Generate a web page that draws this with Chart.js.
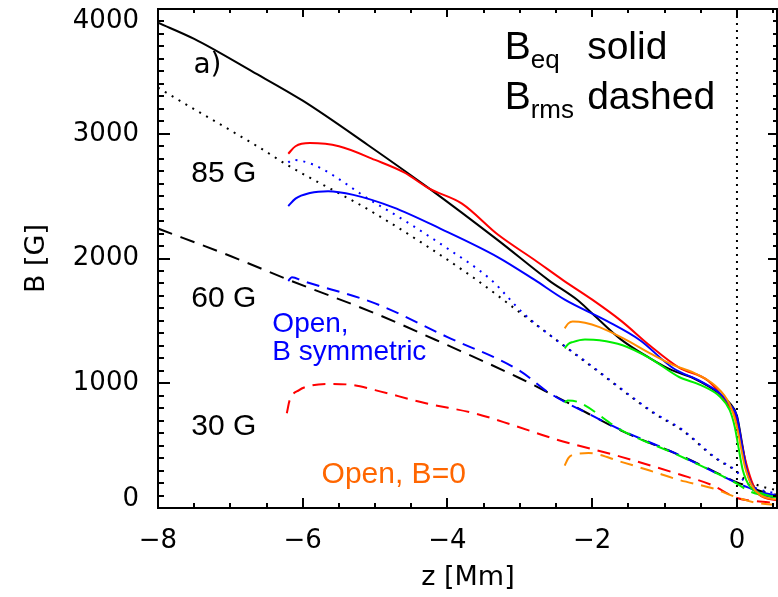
<!DOCTYPE html>
<html>
<head>
<meta charset="utf-8">
<script src="https://cdn.jsdelivr.net/npm/chart.js@4/dist/chart.umd.min.js"></script>
<style>
  html, body { margin: 0; padding: 0; background: #fff; }
  #chart { display: block; }
</style>
</head>
<body>
<canvas id="chart" width="778" height="597"></canvas>
<script>
// tick values / labels
const xTicks = [-8, -6, -4, -2, 0];
const xTickLabels = ['\u22128', '\u22126', '\u22124', '\u22122', '0'];
const yTicks = [0, 1000, 2000, 3000, 4000];
const xMinor = [-8, -7.5, -7, -6.5, -6, -5.5, -5, -4.5, -4, -3.5, -3, -2.5, -2, -1.5, -1, -0.5, 0, 0.5];

// reference run (black): B_eq solid, B_rms dashed, dotted
const eqRefZ = [-8, -7.5, -6.7, -6.0, -5.1, -4.25, -3.3, -2.6, -2.2, -2.0, -1.6, -1.2, -0.9, -0.6, -0.25, -0.1, 0.0, 0.07, 0.14, 0.2, 0.32, 0.45, 0.567];
const eqRefB = [3890, 3760, 3500, 3265, 2910, 2560, 2145, 1825, 1665, 1560, 1350, 1200, 1105, 1040, 920, 840, 740, 520, 300, 200, 120, 95, 88];
const rmsRefZ = [-8, -7.0, -6.2, -5.0, -4.0, -3.0, -2.3, -1.6, -0.8, -0.5, -0.2, 0.0, 0.15, 0.3, 0.567];
const rmsRefB = [2240, 2020, 1830, 1560, 1305, 1040, 832, 620, 425, 345, 260, 205, 175, 140, 104];
const dotRefZ = [-8, -7.7, -6.6, -6.2, -5.0, -3.65, -2.95, -2.0, -1.15, -0.75, -0.3, 0.0, 0.1, 0.3, 0.567];
const dotRefB = [3370, 3265, 2890, 2745, 2360, 1850, 1545, 1130, 760, 620, 400, 290, 235, 180, 140];

// 85 G (red)
const eq85Z = [-6.2, -6.1, -5.9, -5.5, -5.0, -4.6, -4.25, -3.8, -3.3, -2.8, -2.4, -2.0, -1.6, -1.2, -0.8, -0.4, -0.15, 0.0, 0.1, 0.2, 0.3, 0.567];
const eq85B = [2840, 2900, 2925, 2900, 2790, 2690, 2560, 2440, 2190, 1990, 1825, 1670, 1500, 1300, 1125, 1020, 850, 700, 420, 220, 110, 60];
// 30 G dashed (red)
const rms30Z = [-6.22, -6.18, -6.05, -5.9, -5.65, -5.3, -5.0, -4.3, -3.6, -3.1, -2.5, -1.6, -0.8, -0.35, 0.0, 0.25, 0.567];
const rms30B = [760, 865, 945, 980, 995, 985, 945, 840, 755, 665, 550, 410, 270, 185, 80, 55, 40];

// open, B symmetric (blue)
const eqSymZ = [-6.2, -6.1, -5.9, -5.65, -5.3, -4.75, -4.1, -3.3, -2.8, -2.38, -1.8, -1.34, -0.88, -0.5, -0.23, -0.1, 0.0, 0.07, 0.14, 0.2, 0.32, 0.567];
const eqSymB = [2420, 2480, 2525, 2540, 2510, 2410, 2240, 2010, 1830, 1670, 1500, 1345, 1120, 1015, 915, 830, 730, 500, 290, 190, 115, 85];
const rmsSymZ = [-6.2, -6.15, -6.0, -5.0, -4.0, -3.0, -2.6, -2.0, -1.6, -0.8, -0.2, 0.0, 0.15, 0.3, 0.567];
const rmsSymB = [1820, 1850, 1820, 1640, 1370, 1100, 925, 740, 625, 425, 255, 200, 165, 130, 100];
const dotSymZ = [-6.2, -6.15, -5.0, -4.0, -3.4, -2.95, -2.0, -1.15, -0.75, -0.3, 0.0, 0.1, 0.3, 0.567];
const dotSymB = [2770, 2790, 2445, 2080, 1830, 1560, 1135, 765, 625, 405, 290, 215, 150, 115];

// open, B=0 (orange)
const eqOpenZ = [-2.38, -2.33, -2.27, -2.1, -1.9, -1.57, -1.2, -0.88, -0.6, -0.3, -0.1, 0.0, 0.05, 0.11, 0.2, 0.32, 0.567];
const eqOpenB = [1440, 1480, 1495, 1485, 1450, 1360, 1240, 1145, 1085, 980, 830, 650, 500, 330, 185, 105, 64];
const rmsOpenZ = [-2.38, -2.33, -2.25, -2.05, -1.6, -1.15, -0.8, -0.35, 0.0, 0.28, 0.567];
const rmsOpenB = [340, 400, 430, 440, 370, 290, 225, 160, 85, 40, 25];

// green run
const eqGreenZ = [-2.38, -2.33, -2.27, -2.1, -1.9, -1.58, -1.2, -0.8, -0.5, -0.23, -0.1, -0.03, 0.02, 0.08, 0.18, 0.32, 0.567];
const eqGreenB = [1280, 1315, 1330, 1350, 1345, 1305, 1200, 1050, 985, 890, 785, 650, 490, 305, 170, 120, 80];
const rmsGreenZ = [-2.38, -2.34, -2.2, -1.6, -0.8, -0.2, 0.0, 0.15, 0.3, 0.567];
const rmsGreenB = [845, 862, 850, 625, 420, 255, 195, 140, 110, 85];

// z = 0 marker
const zeroLineZ = [0, 0];
const zeroLineB = [0, 4000];

const pts = (zs, bs) => zs.map((z, i) => ({ x: z, y: bs[i] }));

const RED = '#ff0000', BLUE = '#0000ff', GREEN = '#00ee00', ORANGE = '#ff8c00';
const DASH = [13, 8], DOT = [2, 6];

function line(data, color, dash, width) {
  return {
    data, borderColor: color, borderWidth: width || 2, borderDash: dash || [],
    pointRadius: 0, showLine: true, fill: false,
    cubicInterpolationMode: 'monotone', borderCapStyle: 'butt'
  };
}

const labels = [
  { text: 'a)', z: -7.51, b: 3490, font: '28px "DejaVu Sans"', color: '#000' },
  { text: '85 G', z: -7.54, b: 2610, font: '30px "Liberation Sans"', color: '#000' },
  { text: '60 G', z: -7.54, b: 1610, font: '30px "Liberation Sans"', color: '#000' },
  { text: '30 G', z: -7.54, b: 584, font: '30px "Liberation Sans"', color: '#000' },
  { text: 'Open,', z: -6.42, b: 1408, font: '28px "Liberation Sans"', color: BLUE },
  { text: 'B symmetric', z: -6.42, b: 1184, font: '28px "Liberation Sans"', color: BLUE },
  { text: 'Open, B=0', z: -5.74, b: 200, font: '30px "Liberation Sans"', color: '#ff6600' }
];

const decor = {
  id: 'decor',
  afterDraw(chart) {
    const { ctx, chartArea: a, scales: { x, y } } = chart;
    const L = Math.round(a.left), R = Math.round(a.right), T = Math.round(a.top), B = Math.round(a.bottom);
    ctx.save();
    ctx.fillStyle = '#000';
    ctx.fillRect(L - 1, T - 1, R - L + 1, 2);
    ctx.fillRect(L - 1, B - 1, R - L + 1, 2);
    ctx.fillRect(L - 1, T - 1, 2, B - T + 2);
    ctx.fillRect(R - 2, T - 1, 2, B - T + 2);

    // inward ticks, bottom/top
    xMinor.forEach(v => {
      const px = Math.round(x.getPixelForValue(v));
      const major = xTicks.includes(v);
      ctx.fillRect(px - 1, B - (major ? 10 : 5), 2, major ? 10 : 5);
      ctx.fillRect(px - 1, T, 2, major ? 8 : 4);
    });
    // inward ticks, left/right
    for (let v = 0; v <= 4000; v += 100) {
      const py = Math.round(y.getPixelForValue(v));
      const major = yTicks.includes(v);
      ctx.fillRect(L, py - 1, major ? 12 : 6, 2);
      ctx.fillRect(R - 1 - (major ? 9 : 4), py - 1, major ? 9 : 4, 2);
    }

    ctx.textBaseline = 'alphabetic';
    ctx.textAlign = 'left';
    labels.forEach(l => {
      ctx.font = l.font;
      ctx.fillStyle = l.color;
      ctx.fillText(l.text, x.getPixelForValue(l.z), y.getPixelForValue(l.b));
    });

    // B_eq solid / B_rms dashed
    ctx.fillStyle = '#000';
    const bx = x.getPixelForValue(-3.21), wx = x.getPixelForValue(-2.07);
    [['eq', 'solid', 3600], ['rms', 'dashed', 3195]].forEach(([sub, word, b]) => {
      const by = y.getPixelForValue(b);
      ctx.font = '39px "Liberation Sans"';
      ctx.fillText('B', bx, by);
      const w = ctx.measureText('B').width;
      ctx.fillText(word, wx, by);
      ctx.font = '26px "Liberation Sans"';
      ctx.fillText(sub, bx + w, by + 9);
    });
    ctx.restore();
  }
};

// y tick labels: IDL nudges the end labels inside the frame
const yLabelLines = v => v === 4000 ? ['', '4000'] : v === 0 ? ['0', ''] : String(v);
const yLabelLineHeight = v => v === 4000 ? '24px' : v === 0 ? '18px' : '30px';

new Chart(document.getElementById('chart'), {
  type: 'scatter',
  data: {
    datasets: [
      line(pts(eqOpenZ, eqOpenB), ORANGE),
      line(pts(rmsOpenZ, rmsOpenB), ORANGE, DASH),
      line(pts(rmsGreenZ, rmsGreenB), GREEN, DASH),
      line(pts(eqGreenZ, eqGreenB), GREEN),
      line(pts(rmsSymZ, rmsSymB), BLUE, DASH),
      line(pts(dotSymZ, dotSymB), BLUE, DOT),
      line(pts(eqSymZ, eqSymB), BLUE),
      line(pts(eq85Z, eq85B), RED),
      line(pts(rms30Z, rms30B), RED, DASH),
      line(pts(eqRefZ, eqRefB), '#000'),
      line(pts(rmsRefZ, rmsRefB), '#000', [15, 9]),
      line(pts(dotRefZ, dotRefB), '#000', DOT),
      Object.assign(line(pts(zeroLineZ, zeroLineB), '#000', [2, 5]), { cubicInterpolationMode: 'default', tension: 0 })
    ]
  },
  options: {
    responsive: false,
    animation: false,
    devicePixelRatio: 1,
    layout: { padding: { top: 9, right: 0, left: 0, bottom: 0 } },
    plugins: { legend: { display: false }, tooltip: { enabled: false } },
    scales: {
      x: {
        type: 'linear', min: -8, max: 0.567,
        grid: { display: false }, border: { display: false },
        afterBuildTicks: s => { s.ticks = xTicks.map(v => ({ value: v })); },
        afterFit: s => { s.height = 89; s.paddingLeft = 0; s.paddingRight = 0; },
        ticks: {
          padding: 10, color: '#000', maxRotation: 0,
          font: { family: 'DejaVu Sans', size: 26 },
          callback: (v) => xTickLabels[xTicks.indexOf(v)]
        },
        title: {
          display: true, text: 'z [Mm]', color: '#000',
          font: { family: 'DejaVu Sans', size: 27 },
          padding: { top: 0, bottom: 3 }
        }
      },
      y: {
        type: 'linear', min: 0, max: 4000,
        grid: { display: false }, border: { display: false },
        afterBuildTicks: s => { s.ticks = yTicks.map(v => ({ value: v })); },
        afterFit: s => { s.width = 158; s.paddingTop = 0; s.paddingBottom = 0; },
        ticks: {
          padding: 11, color: '#000',
          font: c => ({ family: 'DejaVu Sans', size: 26, lineHeight: yLabelLineHeight(c.tick ? c.tick.value : -1) }),
          callback: v => yLabelLines(v)
        },
        title: {
          display: true, text: 'B [G]', color: '#000',
          font: { family: 'DejaVu Sans', size: 27 },
          padding: { top: 21, bottom: 0 }
        }
      }
    }
  },
  plugins: [decor]
});
</script>
</body>
</html>
